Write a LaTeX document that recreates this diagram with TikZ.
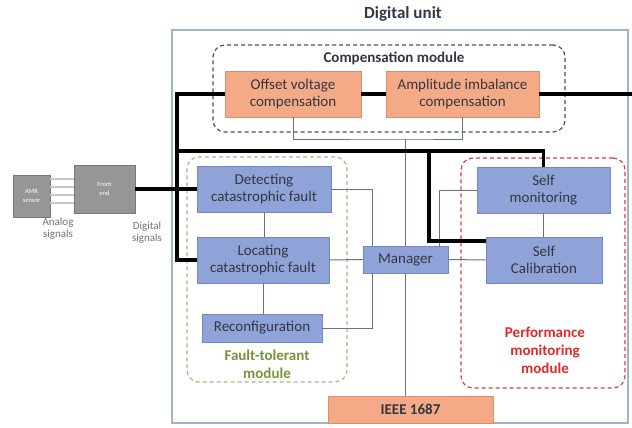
\documentclass[tikz,border=0pt]{standalone}
\usepackage{fontspec}
\setmainfont{Carlito}
\definecolor{orfill}{RGB}{245,170,135}
\definecolor{ordraw}{RGB}{225,140,105}
\definecolor{blfill}{RGB}{143,163,216}
\definecolor{bldraw}{RGB}{115,135,195}
\definecolor{gyfill}{RGB}{150,150,150}
\definecolor{gydraw}{RGB}{120,120,120}
\definecolor{duborder}{RGB}{160,180,200}
\definecolor{thinc}{RGB}{100,115,135}
\definecolor{compc}{RGB}{70,80,95}
\definecolor{ftc}{RGB}{165,185,130}
\definecolor{fttext}{RGB}{118,146,60}
\definecolor{pmc}{RGB}{215,60,70}
\definecolor{pmtext}{RGB}{225,40,40}
\definecolor{txt}{RGB}{50,55,65}
\tikzset{
  boxtext/.style={font=\fontsize{15}{17.5}\selectfont, text=txt, align=center, inner sep=0pt},
  orbox/.style={boxtext, rectangle, fill=orfill, draw=ordraw, line width=0.8pt},
  blbox/.style={boxtext, rectangle, fill=blfill, draw=bldraw, line width=0.8pt},
  gybox/.style={rectangle, fill=gyfill, draw=gydraw, line width=0.8pt, text=white, align=center, inner sep=0pt, font=\fontsize{6.5}{9}\selectfont},
  modbox/.style={rectangle, rounded corners=12pt, dashed, line width=1.2pt, dash pattern=on 4pt off 3pt},
  thickline/.style={line width=3.5pt, black},
  thinline/.style={line width=1pt, thinc},
  sigtext/.style={font=\fontsize{11}{12.5}\selectfont, text=gray!90!black, align=center, inner sep=0pt},
}
\begin{document}
\begin{tikzpicture}[x=1pt,y=-1pt]
\useasboundingbox (0,0) rectangle (632,428);
% digital unit frame
\node[draw=duborder, line width=1.2pt, minimum width=456pt, minimum height=393pt, inner sep=0pt] (du) at (400,226.5) {};
\node[font=\bfseries\fontsize{17}{19}\selectfont, text=txt, inner sep=0pt] (title) at (403,14) {Digital unit};
% module frames
\node[modbox, draw=compc, minimum width=352pt, minimum height=87pt] (comp) at (389,88.5) {};
\node[font=\bfseries\fontsize{15}{17}\selectfont, text=txt, inner sep=0pt] (comptitle) at (394,58) {Compensation module};
\node[modbox, draw=ftc, minimum width=160pt, minimum height=225pt] (ft) at (267,269.5) {};
\node[modbox, draw=pmc, minimum width=164pt, minimum height=230pt] (pm) at (543,273) {};
\node[font=\bfseries\fontsize{15}{17.5}\selectfont, text=fttext, align=center, inner sep=0pt] (fttitle) at (267,364.5) {Fault-tolerant\\module};
\node[font=\bfseries\fontsize{15}{18}\selectfont, text=pmtext, align=center, inner sep=0pt] (pmtitle) at (545,350) {Performance\\monitoring\\module};
% boxes
\node[orbox, minimum width=136pt, minimum height=46pt] (offset) at (293,94) {Offset voltage\\compensation};
\node[orbox, minimum width=153pt, minimum height=46pt] (ampl) at (462.5,94) {Amplitude imbalance\\compensation};
\node[blbox, minimum width=134pt, minimum height=46pt] (det) at (264,189) {Detecting\\catastrophic fault};
\node[blbox, minimum width=132pt, minimum height=46pt] (loc) at (263,260) {Locating\\catastrophic fault};
\node[blbox, minimum width=120pt, minimum height=28pt] (rec) at (262,328) {Reconfiguration};
\node[blbox, minimum width=85pt, minimum height=27pt] (mgr) at (405.5,259.5) {Manager};
\node[blbox, minimum width=133pt, minimum height=46pt] (sm) at (543.5,190) {Self\\monitoring};
\node[blbox, minimum width=116pt, minimum height=46pt] (sc) at (544,260) {Self\\Calibration};
\node[orbox, font=\bfseries\fontsize{15}{17}\selectfont, minimum width=165pt, minimum height=27pt] (ieee) at (410.5,409.5) {IEEE 1687};
% front end
\node[gybox, minimum width=61pt, minimum height=48pt] (fe) at (104.5,189) {Front\\end};
\node[gybox, minimum width=37pt, minimum height=42pt] (amr) at (31.5,196) {AMR\\sensor};
\node[sigtext] (analog) at (58,228.5) {Analog\\signals};
\node[sigtext] (digital) at (147,232.5) {Digital\\signals};
% coordinates
\coordinate (bl) at (177,94);
\coordinate (tb) at (177,151);
\coordinate (tj) at (429,151);
\coordinate (scin) at (486,241);
\coordinate (rout) at (632,94);
\coordinate (cb) at (405.5,139);
% analog lines
\foreach \d in {17,9,1,-7}
  \draw[line width=1.2pt, gray!45] ([yshift=\d pt]amr.east) -- ([yshift=\d pt]amr.east -| fe.west);
% thin connectors
\draw[thinline] (offset.south) |- (cb) -| (ampl.south);
\draw[thinline] (cb) -- (mgr.north);
\draw[thinline] (mgr.south) -- (mgr.south |- ieee.north);
\draw[thinline] (det.east) -| ([xshift=-33.5pt]mgr.north);
\draw[thinline] (rec.east) -| ([xshift=-33.5pt]mgr.south);
\draw[thinline] (det.south) -- (det.south |- loc.north);
\draw[thinline] (loc.south) -- (loc.south |- rec.north);
\draw[thinline] (loc.east) -- (mgr.west);
\draw[thinline] (mgr.east) -- (sc.west);
\draw[thinline] (sm.west) -| ([xshift=33.5pt]mgr.north);
\draw[thinline] (sm.south) -- (sm.south |- sc.north);
% thick buses
\draw[thickline] (fe.east) -- (det.west);
\draw[thickline] (offset.west) -- (bl) |- (loc.west);
\draw[thickline] (offset.east) -- (ampl.west);
\draw[thickline] (ampl.east) -- (rout);
\draw[thickline] (tb) -| (sm.north);
\draw[thickline] (tj) |- (scin);
\end{tikzpicture}
\end{document}
